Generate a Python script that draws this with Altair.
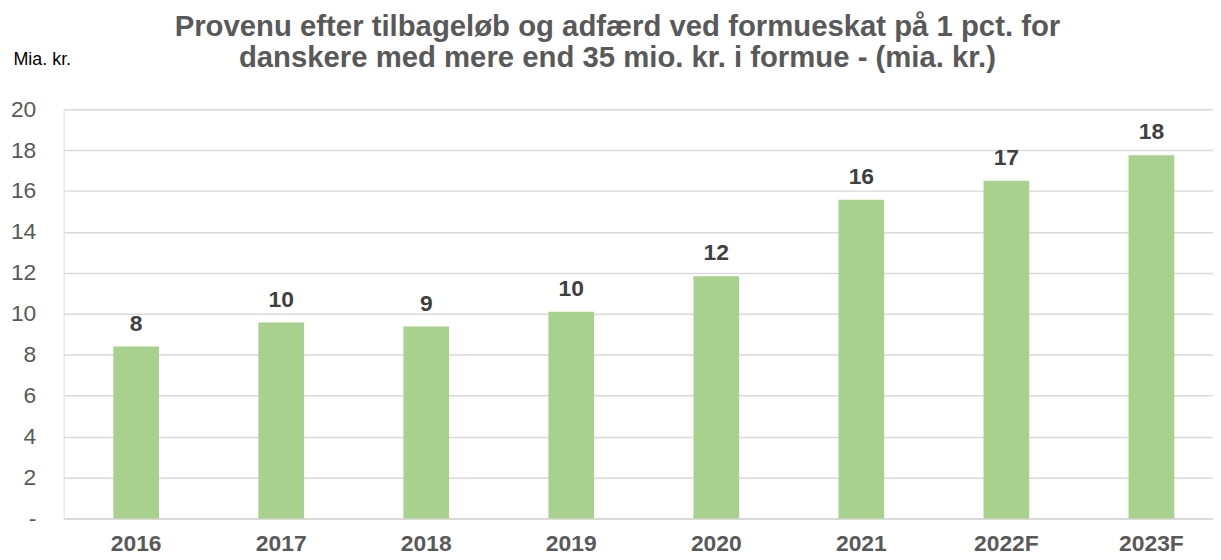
import altair as alt
import pandas as pd

years = ["2016", "2017", "2018", "2019", "2020", "2021", "2022F", "2023F"]
values = [8.4, 9.58, 9.38, 10.1, 11.84, 15.57, 16.5, 17.75]
labels = ["8", "10", "9", "10", "12", "16", "17", "18"]
y_ticks = [0, 2, 4, 6, 8, 10, 12, 14, 16, 18, 20]

df = pd.DataFrame({"year": years, "value": values, "label": labels})

FONT = "Liberation Sans"

x = alt.X(
    "year:N",
    sort=years,
    title=None,
    scale=alt.Scale(range=[0, 1168], paddingInner=0.685, paddingOuter=0.3425),
    axis=alt.Axis(
        labelAngle=0,
        labelFont=FONT,
        labelFontSize=23,
        labelFontWeight="bold",
        labelColor="#595959",
        labelPadding=14,
        ticks=False,
        domainColor="#d9d9d9",
        domainWidth=2,
        grid=False,
    ),
)

y = alt.Y(
    "value:Q",
    scale=alt.Scale(domain=[0, 20], nice=False),
    axis=alt.Axis(
        values=y_ticks,
        labelExpr="datum.value == 0 ? '-\u2007' : datum.label",
        labelFont=FONT,
        labelFontSize=23,
        labelColor="#595959",
        labelPadding=28,
        ticks=False,
        domain=False,
        gridColor="#d9d9d9",
        gridWidth=1.5,
        title="Mia. kr.",
        titleAngle=0,
        titleAlign="left",
        titleBaseline="alphabetic",
        titleX=-51,
        titleY=-45,
        titleFont=FONT,
        titleFontSize=18,
        titleFontWeight="normal",
        titleColor="#000000",
    ),
)

bars = alt.Chart(df).mark_bar(color="#a9d18e").encode(x=x, y=y)

text = alt.Chart(df).mark_text(
    font=FONT,
    fontSize=23,
    fontWeight="bold",
    color="#404040",
    baseline="alphabetic",
    dy=-16,
).encode(x=alt.X("year:N", sort=years), y="value:Q", text="label:N")

chart = (
    alt.layer(bars, text)
    .properties(
        width=1157,
        height=412,
        padding={"left": 56, "top": 100, "right": 0, "bottom": 44},
        autosize=alt.AutoSizeParams(type="none"),
        title=alt.Title(
            text=[
                "Provenu efter tilbageløb og adfærd ved formueskat på 1 pct. for",
                "danskere med mere end 35 mio. kr. i formue - (mia. kr.)",
            ],
            font=FONT,
            fontSize=29.5,
            fontWeight="bold",
            color="#595959",
            anchor="middle",
            lineHeight=31,
            offset=-23,
            dx=-21,
        ),
    )
    .configure_view(stroke=None)
    .configure(background="white")
)

chart.save("out.html", embed_options={"renderer": "svg", "actions": False})
